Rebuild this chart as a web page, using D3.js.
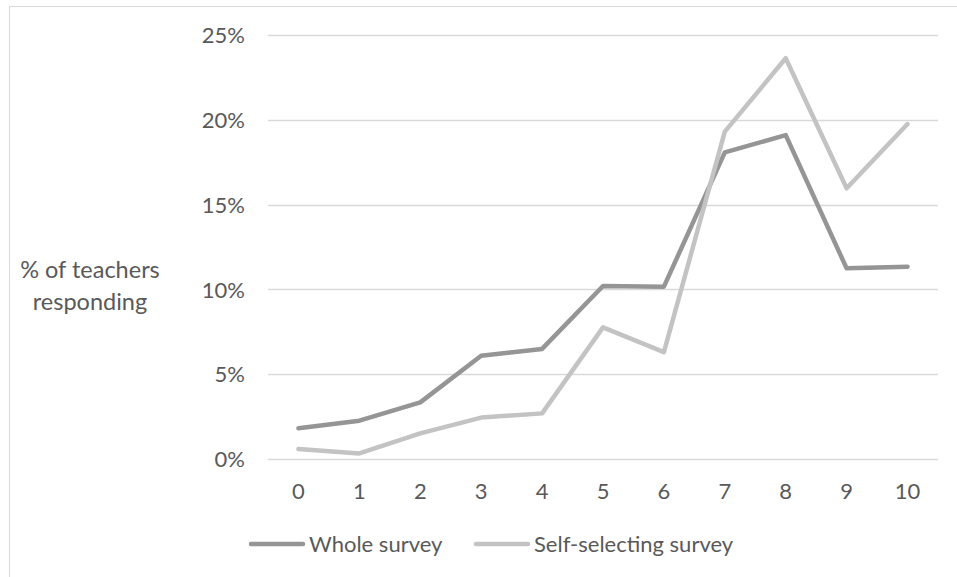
<!DOCTYPE html>
<html><head><meta charset="utf-8">
<script src="https://cdn.jsdelivr.net/npm/d3@7"></script>
<style>body{margin:0;background:#fff;} text{font-family:Lato,sans-serif;fill:#595959;}</style>
</head><body>
<svg id="c" width="957" height="577"></svg>
<script>
const categories = ["0","1","2","3","4","5","6","7","8","9","10"];
const wholeSurvey = [1.81, 2.26, 3.34, 6.09, 6.49, 10.2, 10.16, 18.08, 19.1, 11.24, 11.34];
const selfSelecting = [0.59, 0.33, 1.51, 2.44, 2.69, 7.76, 6.3, 19.3, 23.63, 15.96, 19.75];
const yTicks = [0, 5, 10, 15, 20, 25];
const seriesNames = ["Whole survey", "Self-selecting survey"];
const seriesColors = ["#959595", "#c3c3c3"];

(function () {
const FS = 22;
const svg = d3.select("#c");
// outer border
svg.append("rect").attr("x", 9.5).attr("y", 6.5).attr("width", 1000).attr("height", 1000)
  .attr("fill", "none").attr("stroke", "#d9d9d9").attr("stroke-width", 1);

const pLeft = 268, pRight = 938, pTop = 35, pBottom = 459;
const x = d3.scaleBand().domain(categories).range([pLeft, pRight]);
const y = d3.scaleLinear().domain([0, 25]).range([pBottom, pTop]);

// gridlines
svg.append("g").selectAll("line").data(yTicks).join("line")
  .attr("x1", pLeft).attr("x2", pRight)
  .attr("y1", d => Math.round(y(d)) + 0.5).attr("y2", d => Math.round(y(d)) + 0.5)
  .attr("stroke", "#d9d9d9").attr("stroke-width", 1.3);

// y axis labels
const yAxis = d3.axisLeft(y).tickValues(yTicks).tickFormat(d => d + "%").tickSize(0).tickPadding(0);
const ya = svg.append("g").attr("transform", `translate(245,0)`).call(yAxis);
ya.select(".domain").remove();
ya.selectAll("text").attr("font-size", FS).attr("font-family", "Lato").attr("fill", "#595959").attr("dy", "0.35em");

// x axis labels
const xAxis = d3.axisBottom(x).tickSize(0).tickPadding(0);
const xa = svg.append("g").attr("transform", `translate(0,491)`).call(xAxis);
xa.select(".domain").remove();
xa.selectAll("text").attr("font-size", FS).attr("font-family", "Lato").attr("fill", "#595959").attr("dy", "0.35em");

// y title
const yt = svg.append("text").attr("text-anchor", "middle").attr("font-size", 23.5);
yt.append("tspan").attr("x", 90).attr("y", 270).attr("dy", "0.35em").text("% of teachers");
yt.append("tspan").attr("x", 90).attr("y", 302).attr("dy", "0.35em").text("responding");

// lines
const line = d3.line().x((d, i) => x(categories[i]) + x.bandwidth() / 2).y(d => y(d));
[wholeSurvey, selfSelecting].forEach((s, k) => {
  svg.append("path").datum(s).attr("d", line).attr("fill", "none")
    .attr("stroke", seriesColors[k]).attr("stroke-width", 4.5)
    .attr("stroke-linejoin", "round").attr("stroke-linecap", "round");
});

// legend
const legendX = [251, 476];
seriesNames.forEach((n, k) => {
  const g = svg.append("g").attr("transform", `translate(${legendX[k]},544)`);
  g.append("line").attr("x1", 0).attr("x2", 52).attr("y1", 0).attr("y2", 0)
    .attr("stroke", seriesColors[k]).attr("stroke-width", 4.5).attr("stroke-linecap", "round");
  g.append("text").attr("x", 58).attr("y", 0).attr("dy", "0.35em").attr("font-size", FS).text(n);
});
})();
</script>
</body></html>
